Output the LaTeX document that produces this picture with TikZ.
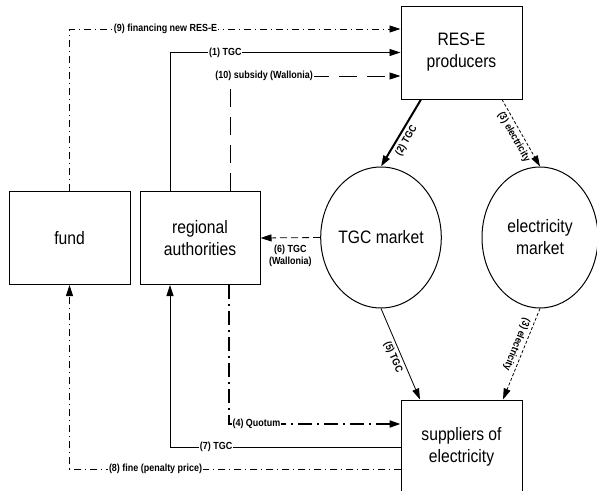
\documentclass[tikz,border=0pt]{standalone}
\usepackage{fontspec}
\setmainfont{Liberation Sans}[FakeStretch=0.87]
\usetikzlibrary{arrows.meta, shapes.geometric, positioning}

\begin{document}
\begin{tikzpicture}[x=1pt, y=-1pt, >={Triangle[length=11pt, width=7pt]},
    b/.style={draw, line width=1pt, minimum width=121pt, minimum height=93pt,
        align=center, font=\fontsize{18}{22}\selectfont},
    m/.style={draw, ellipse, line width=1pt, inner sep=0pt, align=center,
        font=\fontsize{18}{22}\selectfont},
    l/.style={font=\bfseries\fontsize{10.3}{11.5}\selectfont, fill=white, inner sep=1pt},
    f/.style={->, line width=0.8pt},
    dd/.style={f, dash pattern=on 7pt off 4pt on 1pt off 4pt}]
    \useasboundingbox (0,0) rectangle (597,490);
    \node[b] (prod) at (461.5, 52.5) {RES-E\\producers};
    \node[b] (sup) at (461.5, 446.5) {suppliers of\\electricity};
    \node[b] (fund) at (69.5, 238) {fund};
    \node[b, minimum width=120pt] (reg) at (200, 238) {regional\\authorities};
    \node[m, minimum width=120pt, minimum height=141pt] (tgcm) at (381, 237.5) {TGC market};
    \node[m, minimum width=116pt, minimum height=141pt] (elm) at (540, 237.5) {electricity\\market};
    \draw[dd] (fund.north) |- node[l, pos=0.645]{(9) financing new RES-E} ([yshift=23.5pt]prod.west);
    \draw[f] ([xshift=-30pt]reg.north) |- node[l, pos=0.62]{(1) TGC} (prod.west);
    \draw[f, dash pattern=on 18pt off 10pt] ([xshift=30pt]reg.north) |- node[l, pos=0.6]{(10) subsidy (Wallonia)} ([yshift=-23.5pt]prod.west);
    \draw[f, line width=2pt] ([xshift=-40.5pt]prod.south) -- node[l, fill=none, sloped, below=2pt, pos=0.55]{(2) TGC} (tgcm.north);
    \draw[f, dash pattern=on 3pt off 2pt] ([xshift=40.5pt]prod.south) -- node[l, fill=none, sloped, below=2pt, pos=0.5]{(3) electricity} (elm.north);
    \draw[f, dash pattern=on 7pt off 4pt] (tgcm.west) -- node[l, fill=none, below=6pt, align=center]{(6) TGC\\(Wallonia)} (reg.east);
    \draw[f] (tgcm.south) -- node[l, fill=none, sloped, below=2pt]{(5) TGC} ([xshift=-41.5pt]sup.north);
    \draw[f, dash pattern=on 3pt off 2pt] (elm.south) -- node[l, fill=none, sloped, allow upside down, below=2pt, pos=0.43]{(3) electricity} ([xshift=41.5pt]sup.north);
    \draw[f, line width=2pt, dash pattern=on 14pt off 5pt on 2pt off 5pt] ([xshift=29pt]reg.south) |- node[l, pos=0.58]{(4) Quotum} ([yshift=22.5pt]sup.west);
    \draw[f] ([yshift=-0.5pt]sup.west) -| node[l, pos=0.4]{(7) TGC} ([xshift=-30pt]reg.south);
    \draw[dd] ([yshift=-22.5pt]sup.west) -| node[l, pos=0.37]{(8) fine (penalty price)} (fund.south);
\end{tikzpicture}
\end{document}
